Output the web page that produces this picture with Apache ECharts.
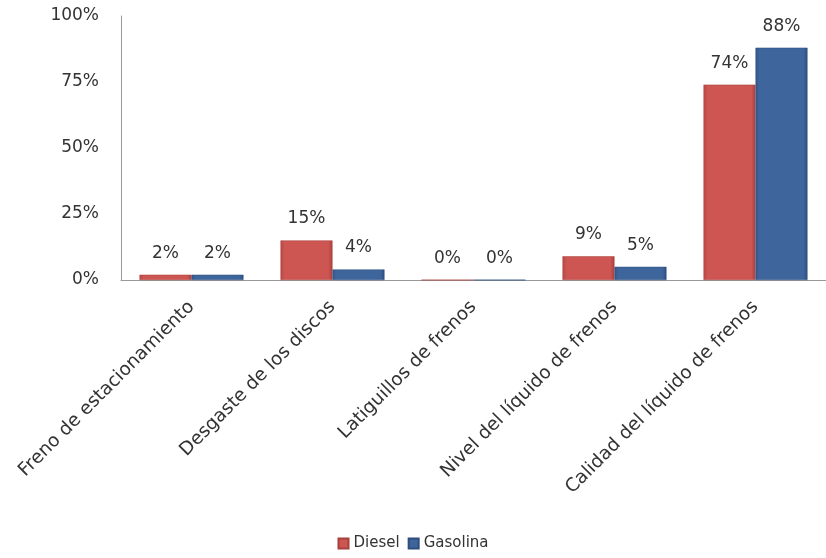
<!DOCTYPE html>
<html><head><meta charset="utf-8">
<script src="https://cdn.jsdelivr.net/npm/echarts@6/dist/echarts.min.js"></script>
<style>html,body{margin:0;padding:0;background:#fff}#c{width:826px;height:558px}</style>
</head><body><div id="c"></div>
<script>
const categories = ["Freno de estacionamiento","Desgaste de los discos","Latiguillos de frenos","Nivel del líquido de frenos","Calidad del líquido de frenos"];
const diesel = [2, 15, 0, 9, 74];
const gasolina = [2, 4, 0, 5, 88];
const yTicks = [0, 25, 50, 75, 100];

const red = {type:'linear',x:0,y:0,x2:1,y2:0,colorStops:[{offset:0,color:'#B84744'},{offset:0.08,color:'#CD5552'},{offset:0.92,color:'#CD5552'},{offset:1,color:'#A8403D'}]};
const blue = {type:'linear',x:0,y:0,x2:1,y2:0,colorStops:[{offset:0,color:'#34578A'},{offset:0.08,color:'#3E669C'},{offset:0.92,color:'#3E669C'},{offset:1,color:'#2E4E7E'}]};
const font = '"DejaVu Sans", sans-serif';
const chart = echarts.init(document.getElementById('c'));
chart.setOption({
  animation:false,
  textStyle:{fontFamily:font},
  grid:{left:121, top:16, width:706, height:264, containLabel:false},
  legend:{bottom:2, left:'center', itemWidth:10, itemHeight:10, itemGap:8,
    icon:'rect', textStyle:{fontSize:15, color:'#333', fontFamily:font},
    data:['Diesel','Gasolina']},
  xAxis:{type:'category', data:categories,
    axisLine:{lineStyle:{color:'#999'}}, axisTick:{show:false},
    axisLabel:{rotate:45, fontSize:18.5, color:'#333', margin:24, interval:0}},
  yAxis:{type:'value', min:0, max:100, interval:25,
    axisLine:{show:true, lineStyle:{color:'#999'}}, axisTick:{show:false}, splitLine:{show:false},
    axisLabel:{formatter:v=>v+'%', fontSize:17, color:'#333', margin:22}},
  series:[
    {name:'Diesel', type:'bar', data:diesel, barWidth:52, barGap:'0%',
      itemStyle:{color:red, borderColor:'#A8403D', borderWidth:0.5},
      label:{show:true, position:'top', formatter:p=>p.value+'%', fontSize:17, color:'#333', distance:13}},
    {name:'Gasolina', type:'bar', data:gasolina, barWidth:52, barGap:'0%',
      itemStyle:{color:blue, borderColor:'#2E4E7E', borderWidth:0.5},
      label:{show:true, position:'top', formatter:p=>p.value+'%', fontSize:17, color:'#333', distance:13}}
  ]
});
</script></body></html>
